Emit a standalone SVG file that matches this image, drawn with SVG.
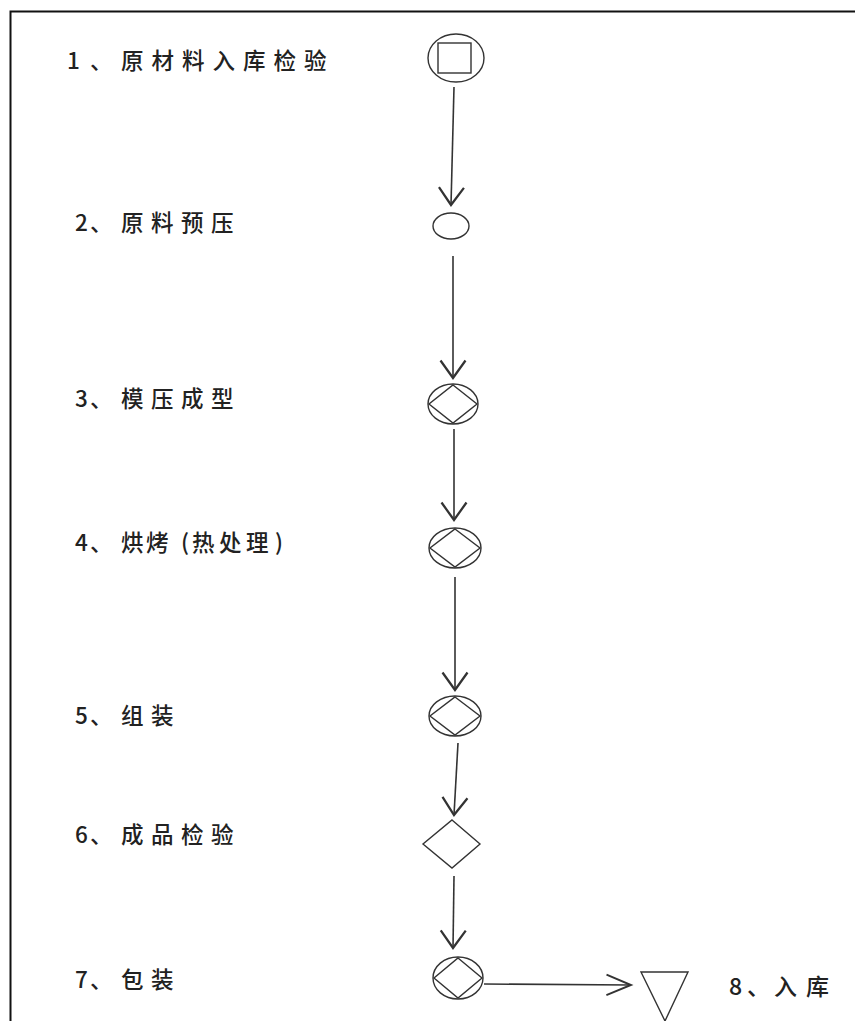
<svg xmlns="http://www.w3.org/2000/svg" width="855" height="1021" viewBox="0 0 855 1021">
<defs>
<style>
.lbl{font-family:"Noto Sans CJK SC","Noto Sans",sans-serif;font-size:22.5px;font-weight:500;fill:#222;}
.shp{fill:none;stroke:#333;stroke-width:1.4;}
.con{fill:none;stroke:#333;stroke-width:1.6;}
</style>
<marker id="av" markerUnits="userSpaceOnUse" markerWidth="30" markerHeight="30" viewBox="-16 -12 18 24" refX="0" refY="0" orient="auto">
<path d="M-14,-10 L0,0 L-14,10" fill="none" stroke="#333" stroke-width="1.8"/>
</marker>
<marker id="ah" markerUnits="userSpaceOnUse" markerWidth="30" markerHeight="30" viewBox="-20 -10 22 20" refX="0" refY="0" orient="auto">
<path d="M-18,-7.5 L0,0 L-18,7.5" fill="none" stroke="#333" stroke-width="1.4"/>
</marker>
</defs>
<rect width="855" height="1021" fill="#fff"/>
<path d="M10.5,1021 V11.5 H855" fill="none" stroke="#111" stroke-width="2"/>

<g id="labels">
<text class="lbl" x="67 90 121 151.5 182 212.5 243 273.5 304" y="69">1、原材料入库检验</text>
<text class="lbl" x="75 90 121 151 181 211" y="231">2、原料预压</text>
<text class="lbl" x="75 90 121 151 181 211" y="407">3、模压成型</text>
<text class="lbl" x="75 90 121 146 181 192 219 246 275" y="551">4、烘烤(热处理)</text>
<text class="lbl" x="75 90 121 151" y="724">5、组装</text>
<text class="lbl" x="75 90 121 151 181 211" y="843">6、成品检验</text>
<text class="lbl" x="75 90 121 151" y="988">7、包装</text>
</g>

<g id="n1">
<ellipse class="shp" cx="456" cy="58" rx="28" ry="24"/>
<rect class="shp" x="438" y="43" width="33" height="30"/>
</g>
<g id="n2">
<ellipse class="shp" cx="451" cy="226" rx="18" ry="13"/>
</g>
<g id="n3">
<ellipse class="shp" cx="453" cy="404" rx="25" ry="20"/>
<polygon class="shp" points="453,385 477,404 453,423 429,404"/>
</g>
<g id="n4">
<ellipse class="shp" cx="455" cy="548" rx="26" ry="20"/>
<polygon class="shp" points="455,529 480,548 455,567 430,548"/>
</g>
<g id="n5">
<ellipse class="shp" cx="455" cy="716" rx="26" ry="20"/>
<polygon class="shp" points="455,697 480,716 455,735 430,716"/>
</g>
<g id="n6">
<polygon class="shp" points="452,820 480,844 452,868 423,844"/>
</g>
<g id="n7">
<ellipse class="shp" cx="458" cy="978" rx="25" ry="21"/>
<polygon class="shp" points="458,958 482,978 458,998 434,978"/>
</g>
<g id="n8">
<polygon class="shp" points="641,972 688,972 665,1021"/>
<text class="lbl" x="729 747 774 806" y="995" style="font-size:23px">8、入库</text>
</g>

<g id="connectors">
<line class="con" x1="454" y1="87" x2="451" y2="205" marker-end="url(#av)"/>
<line class="con" x1="453" y1="256" x2="453" y2="378" marker-end="url(#av)"/>
<line class="con" x1="454" y1="429" x2="454" y2="520" marker-end="url(#av)"/>
<line class="con" x1="455" y1="577" x2="455" y2="690" marker-end="url(#av)"/>
<line class="con" x1="458" y1="743" x2="454" y2="815" marker-end="url(#av)"/>
<line class="con" x1="454" y1="876" x2="453" y2="948" marker-end="url(#av)"/>
<line class="con" x1="484" y1="984" x2="631" y2="985" marker-end="url(#ah)"/>
</g>
</svg>
